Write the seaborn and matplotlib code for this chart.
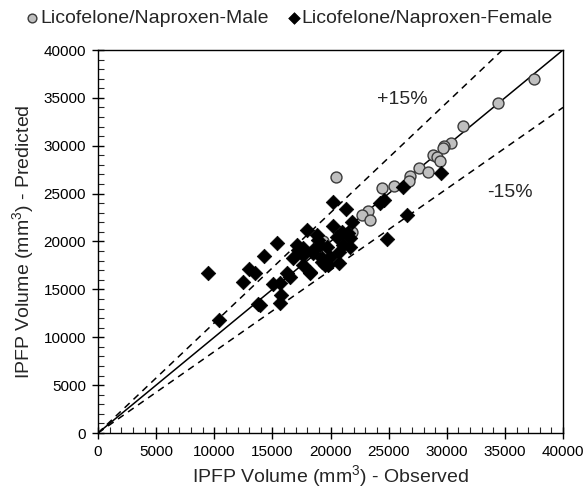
import numpy as np
import pandas as pd
import matplotlib
matplotlib.use("Agg")
import matplotlib.pyplot as plt
import seaborn as sns
from matplotlib.ticker import MultipleLocator

male_obs = [37505, 34436, 31370, 30366, 29793, 29700, 28846, 29135, 29420, 27613,
            28414, 26840, 26780, 25462, 24400, 20473, 23250, 22683, 23398, 19382, 21820]
male_pred = [36972, 34435, 32095, 30256, 29975, 29730, 29034, 28790, 28440, 27710,
             27225, 26837, 26350, 25797, 25620, 26770, 23186, 22768, 22246, 20052, 21024]

female_obs = [9490, 10435, 12447, 12990, 13506, 14305, 15370, 13935, 13735, 15080,
              15656, 15742, 15656, 16230, 16516, 17230, 17660, 18236, 17950, 18810,
              18524, 19240, 19810, 19100, 19670, 20240, 21333, 20190, 21820, 20960,
              21530, 20760, 21100, 21677, 21677, 18950, 17085, 16800, 17660, 19240,
              19960, 20760, 19530, 18236, 24250, 24600, 26266, 26552, 24830, 29506,
              17660, 18524, 20530]
female_pred = [16680, 11800, 15800, 17100, 16680, 18486, 19875, 13368, 13500, 15560,
               15634, 14413, 13543, 16680, 16332, 19113, 18590, 16680, 21150, 20680,
               18765, 17890, 17546, 19635, 19460, 24100, 23364, 21650, 22070, 21024,
               20850, 18930, 19635, 19460, 20332, 20157, 19635, 18245, 17546, 18245,
               18420, 17720, 17546, 16850, 24000, 24300, 25726, 22768, 20262, 27123,
               19287, 19113, 20500]

male_label = "Licofelone/Naproxen-Male"
female_label = "Licofelone/Naproxen-Female"
x_label = "IPFP Volume (mm$^3$) - Observed"
y_label = "IPFP Volume (mm$^3$) - Predicted"
ticks = [0, 5000, 10000, 15000, 20000, 25000, 30000, 35000, 40000]
band_labels = ["+15%", "-15%"]
band_factors = [1.15, 0.85]

df_m = pd.DataFrame({"obs": male_obs, "pred": male_pred})
df_f = pd.DataFrame({"obs": female_obs, "pred": female_pred})

sns.set_style("white")
plt.rcParams["font.family"] = ["Liberation Sans", "DejaVu Sans"]
plt.rcParams["mathtext.fontset"] = "custom"
plt.rcParams["mathtext.rm"] = "Liberation Sans"

fig = plt.figure(figsize=(5.88, 4.90), dpi=100)
ax = fig.add_axes([98/588, 57/490, 465/588, 383/490])

# reference lines
ax.plot([0, 40000], [0, 40000], color="black", lw=1.1, zorder=1)
ax.plot([0, 40000 / band_factors[0]], [0, 40000], color="black", lw=1.1,
        ls=(0, (4.5, 3.5)), zorder=1)
ax.plot([0, 40000], [0, 40000 * band_factors[1]], color="black", lw=1.1,
        ls=(0, (4.5, 3.5)), zorder=1)

sns.scatterplot(data=df_m, x="obs", y="pred", ax=ax, marker="o", s=62,
                color="#bfbfbf", edgecolor="#3a3a3a", linewidth=1.0, zorder=3,
                label=male_label)
sns.scatterplot(data=df_f, x="obs", y="pred", ax=ax, marker="D", s=55,
                color="black", edgecolor="black", linewidth=0.5, zorder=4,
                label=female_label)

ax.set_xlim(0, 40000)
ax.set_ylim(0, 40000)
ax.set_xticks(ticks)
ax.set_yticks(ticks)
ax.xaxis.set_minor_locator(MultipleLocator(1000))
ax.yaxis.set_minor_locator(MultipleLocator(1000))
ax.tick_params(which="major", direction="inout", length=9, width=1, labelsize=11,
               colors="black", pad=4)
ax.tick_params(which="minor", direction="in", length=4, width=0.8)
ax.tick_params(bottom=True, left=True, which="both")
for sp in ax.spines.values():
    sp.set_visible(True)
    sp.set_color("black")
    sp.set_linewidth(1)

ax.set_xlabel(x_label, fontsize=14, labelpad=3)
ax.set_ylabel(y_label, fontsize=14, labelpad=5)

ax.text(26150, 34800, band_labels[0], fontsize=14, ha="center", va="center")
ax.text(35440, 25070, band_labels[1], fontsize=14, ha="center", va="center")

handles, labels = ax.get_legend_handles_labels()
ax.legend(handles, labels, loc="center left", bbox_to_anchor=(0.045, 1 - 18/490),
          bbox_transform=fig.transFigure, ncol=2, frameon=False,
          fontsize=14, handletextpad=0.1, columnspacing=1.0,
          borderaxespad=0, borderpad=0, handlelength=0.6, markerscale=0.8)

fig.savefig("out.png", dpi=100)
